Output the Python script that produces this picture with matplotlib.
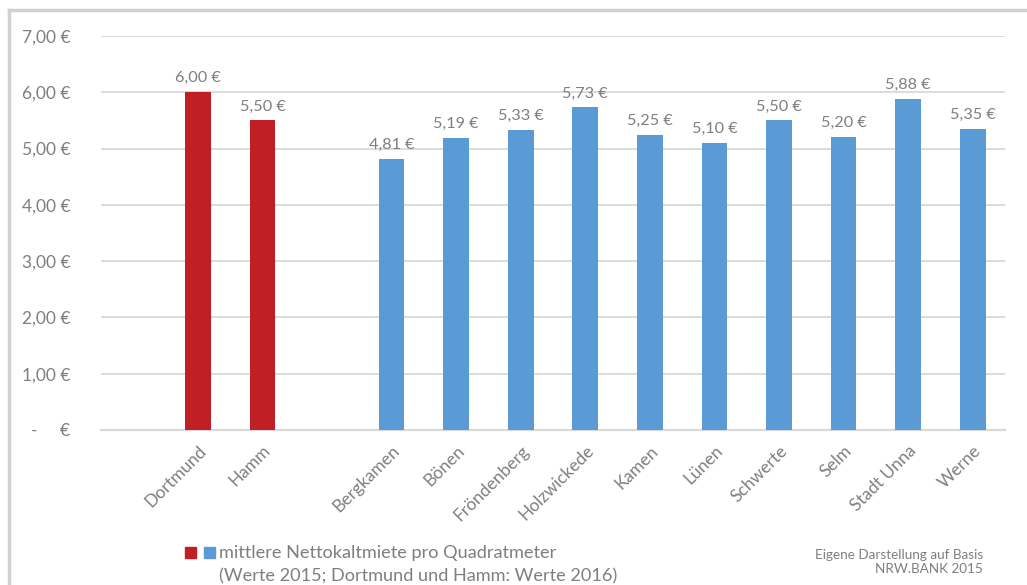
import matplotlib
matplotlib.use("Agg")
import matplotlib.pyplot as plt
from matplotlib.patches import Rectangle
from matplotlib.lines import Line2D
from matplotlib.ticker import FuncFormatter

plt.rcParams['font.family'] = ['Lato', 'DejaVu Sans']

# Data: mean net rent per square metre (EUR)
categories = ["", "Dortmund", "Hamm", "", "Bergkamen", "Bönen", "Fröndenberg",
              "Holzwickede", "Kamen", "Lünen", "Schwerte", "Selm", "Stadt Unna", "Werne"]
cities_2016 = ["Dortmund", "Hamm"]
values_2016 = [6.00, 5.50]
cities_2015 = ["Bergkamen", "Bönen", "Fröndenberg", "Holzwickede", "Kamen",
               "Lünen", "Schwerte", "Selm", "Stadt Unna", "Werne"]
values_2015 = [4.81, 5.19, 5.33, 5.73, 5.25, 5.10, 5.50, 5.20, 5.88, 5.35]
yticks = [0, 1, 2, 3, 4, 5, 6, 7]

RED = "#C01F26"
BLUE = "#5B9BD5"
GREY = "#7F7F7F"
GRID = "#D9D9D9"

W, H = 1027, 585
fig = plt.figure(figsize=(W / 100, H / 100), dpi=100)
ax = fig.add_axes([101 / W, (H - 430) / H, (1005 - 101) / W, (430 - 36) / H])

pos = {c: i for i, c in enumerate(categories) if c}
x16 = [pos[c] for c in cities_2016]
x15 = [pos[c] for c in cities_2015]

b16 = ax.bar(x16, values_2016, width=0.4, color=RED, zorder=3)
b15 = ax.bar(x15, values_2015, width=0.4, color=BLUE, zorder=3)

fmt = lambda v: f"{v:,.2f} €".replace(".", ",")
for bars, vals in ((b16, values_2016), (b15, values_2015)):
    ax.bar_label(bars, labels=[fmt(v) for v in vals], padding=5,
                 color=GREY, fontsize=11.7)

ax.set_xlim(-0.5, len(categories) - 0.5)
ax.set_ylim(0, 7)
ax.set_yticks(yticks)
ax.yaxis.set_major_formatter(FuncFormatter(
    lambda v, p: "-     €" if v == 0 else fmt(v)))
ax.set_xticks(range(len(categories)))
ax.set_xticklabels(categories, rotation=45, ha="right", rotation_mode="anchor",
                   fontsize=12.5, color=GREY)
ax.tick_params(axis="y", length=0, pad=22, labelsize=12.5, labelcolor=GREY)
ax.tick_params(axis="x", length=0, pad=9)

ax.grid(axis="y", color=GRID, linewidth=1.3, zorder=0)
for s in ("top", "right", "left"):
    ax.spines[s].set_visible(False)
ax.spines["bottom"].set_color(GRID)
ax.spines["bottom"].set_linewidth(1.6)

# Outer frame (top and left edges)
fig.add_artist(Line2D([9 / W, 1], [(H - 10) / H] * 2, color="#D0D0D0",
                      linewidth=2.5, transform=fig.transFigure))
fig.add_artist(Line2D([9 / W] * 2, [0, (H - 10) / H], color="#D0D0D0",
                      linewidth=2.5, transform=fig.transFigure))

# Legend
fig.add_artist(Rectangle((185 / W, (H - 558) / H), 11 / W, 11 / H,
                         color=RED, transform=fig.transFigure))
fig.add_artist(Rectangle((204 / W, (H - 558) / H), 11 / W, 11 / H,
                         color=BLUE, transform=fig.transFigure))
fig.text(219 / W, (H - 553) / H, "mittlere Nettokaltmiete pro Quadratmeter",
         color=GREY, fontsize=13.1, va="center", ha="left")
fig.text(219 / W, (H - 576) / H, "(Werte 2015; Dortmund und Hamm: Werte 2016)",
         color=GREY, fontsize=13.1, va="center", ha="left")

# Source note
fig.text(983 / W, (H - 562) / H, "Eigene Darstellung auf Basis\nNRW.BANK 2015",
         color=GREY, fontsize=9.7, ha="right", va="center", multialignment="right",
         linespacing=1.2)

fig.savefig("out.png", dpi=100)
